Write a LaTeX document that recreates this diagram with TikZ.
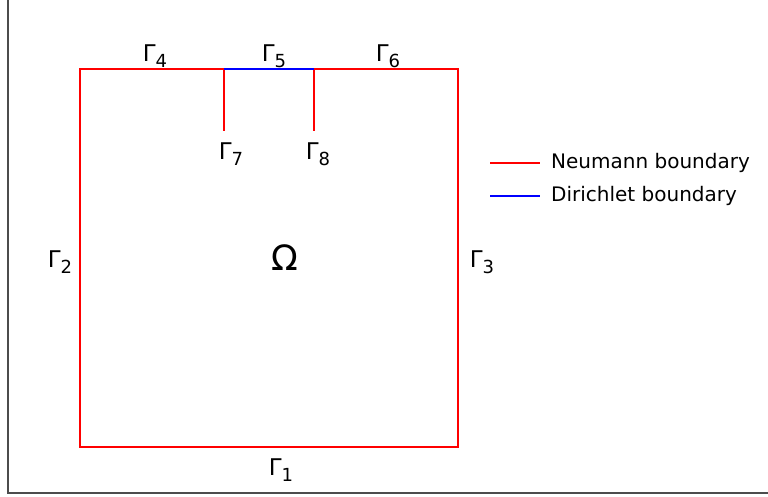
\documentclass[tikz,border=0pt]{standalone}
\usepackage{fontspec}
\setmainfont{DejaVu Sans}
\usetikzlibrary{positioning}

\newcommand{\gammalabel}[1]{\fontsize{23}{23}\selectfont Γ\raisebox{-6.5pt}{\fontsize{18}{18}\selectfont #1}}

\begin{document}
\begin{tikzpicture}[
    x=1pt, y=-1pt,
    neumann/.style={draw=red, line width=2pt},
    dirichlet/.style={draw=blue, line width=2pt},
    frameline/.style={draw=black!70, line width=1.5pt},
    gam/.style={inner sep=0pt},
    legtext/.style={inner sep=0pt, font=\fontsize{20}{20}\selectfont}
]
\useasboundingbox (0,0) rectangle (768,497);
% outer frame (only left and bottom edges show)
\coordinate (f1) at (8,0);
\coordinate (f2) at (8,493);
\coordinate (f3) at (768,493);
\draw[frameline] (f1) -- (f2) -- (f3);

% domain corners and slit points
\coordinate (sw) at (80,447);
\coordinate (se) at (458,447);
\coordinate (ne) at (458,69);
\coordinate (nw) at (80,69);
\coordinate (d1) at (224,69);
\coordinate (d2) at (314,69);
\coordinate (s1) at (224,131);
\coordinate (s2) at (314,131);

\draw[neumann] (d1) -- (nw) -- (sw) -- (se) -- (ne) -- (d2);
\draw[neumann] (d1) -- (s1);
\draw[neumann] (d2) -- (s2);
\draw[dirichlet] (d1) -- (d2);

% boundary labels
\node[gam] (g1) at (281,470) {\gammalabel{1}};
\node[gam] (g2) at (60,262) {\gammalabel{2}};
\node[gam] (g3) at (482,262) {\gammalabel{3}};
\node[gam] (g4) at (155,56) {\gammalabel{4}};
\node[gam] (g5) at (274,56) {\gammalabel{5}};
\node[gam] (g6) at (388,56) {\gammalabel{6}};
\node[gam] (g7) at (231,154) {\gammalabel{7}};
\node[gam] (g8) at (318,154) {\gammalabel{8}};
\node[gam, font=\fontsize{35}{35}\selectfont] (omega) at (285,258) {Ω};

% legend
\coordinate (nl1) at (490,163);
\coordinate (nl2) at (540,163);
\coordinate (dl1) at (490,196);
\coordinate (dl2) at (540,196);
\draw[neumann] (nl1) -- (nl2);
\draw[dirichlet] (dl1) -- (dl2);
\node[legtext, right=11pt of nl2] (neu) {Neumann boundary};
\node[legtext, right=11pt of dl2] (dir) {Dirichlet boundary};
\end{tikzpicture}
\end{document}
